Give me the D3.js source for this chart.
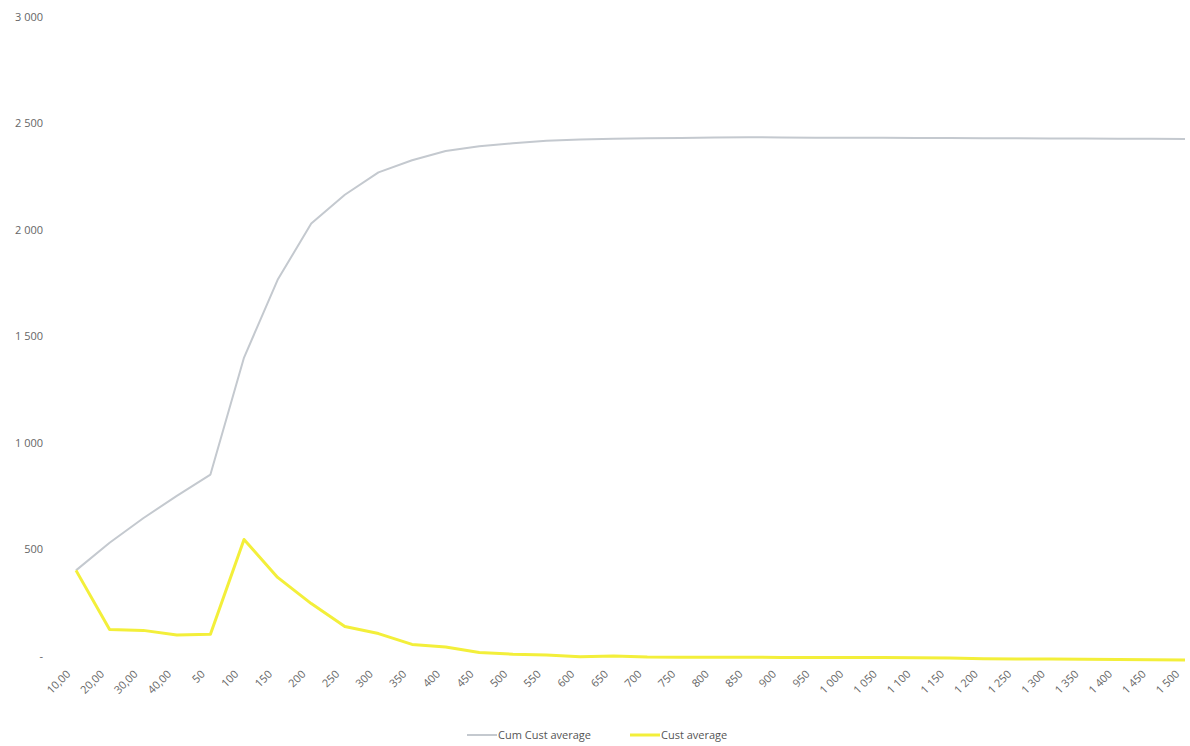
<!DOCTYPE html>
<html><head><meta charset="utf-8">
<script src="https://cdn.jsdelivr.net/npm/d3@7"></script>
<style>
body{margin:0;background:#fff;}
svg{display:block;font-family:"Open Sans","Noto Sans",sans-serif;}
</style></head>
<body><svg id="chart" width="1190" height="746"></svg>
<script>
const categories = ["10,00","20,00","30,00","40,00","50","100","150","200","250","300","350","400","450","500","550","600","650","700","750","800","850","900","950","1 000","1 050","1 100","1 150","1 200","1 250","1 300","1 350","1 400","1 450","1 500"];
const cumCustAverage = [400,530,645,750,850,1400,1765,2030,2165,2270,2327,2370,2393,2407,2418,2424,2428,2430,2432,2434,2435,2434,2433,2433,2433,2432,2431,2430,2430,2429,2429,2428,2428,2427];
const custAverage = [400,122,118,96,100,545,367,244,136,103,52,40,14,6,2,-6,-2,-7,-8,-8,-8,-9,-9,-9,-9,-10,-12,-15,-16,-17,-18,-19,-20,-21];
const yTicks = [0,500,1000,1500,2000,2500,3000];
const seriesNames = ["Cum Cust average","Cust average"];

const svg = d3.select("#chart");
const x = d3.scalePoint().domain(categories).range([76,1185]);
const y = d3.scaleLinear().domain([0,3000]).range([655.5,17]);
const loc = d3.formatLocale({decimal:",",thousands:" ",grouping:[3],currency:["",""]});
const fmt = loc.format(",d");

// y axis
const yAxis = d3.axisLeft(y).tickValues(yTicks).tickSize(0).tickPadding(0)
  .tickFormat(d => d === 0 ? "-" : fmt(d));
const gy = svg.append("g").attr("transform","translate(43,0)").call(yAxis);
gy.select(".domain").remove();
gy.selectAll("text").attr("fill","#666").style("font-size","11px").attr("font-family","'Open Sans',sans-serif");

// x axis labels
const xAxis = d3.axisBottom(x).tickSize(0).tickPadding(0);
const gx = svg.append("g").attr("transform","translate(0,668)").call(xAxis);
gx.select(".domain").remove();
gx.selectAll("text")
  .attr("fill","#666").style("font-size","11px").attr("font-family","'Open Sans',sans-serif")
  .attr("text-anchor","end").attr("dy","0.35em")
  .attr("transform","translate(-8,4) rotate(-45)");

const line = d3.line().x((d,i)=>x(categories[i])).y(d=>y(d));
svg.append("path").datum(cumCustAverage).attr("d",line)
  .attr("fill","none").attr("stroke","#c4c9cf").attr("stroke-width",2).attr("stroke-linejoin","round");
svg.append("path").datum(custAverage).attr("d",line)
  .attr("fill","none").attr("stroke","#f3ef3a").attr("stroke-width",3).attr("stroke-linejoin","round");

// legend
const legend = svg.append("g").attr("transform","translate(0,735)");
const items = [{name:seriesNames[0],color:"#c4c9cf",w:2,x0:467},{name:seriesNames[1],color:"#f3ef3a",w:3,x0:630}];
items.forEach(it=>{
  legend.append("line").attr("x1",it.x0).attr("x2",it.x0+30).attr("y1",0).attr("y2",0)
    .attr("stroke",it.color).attr("stroke-width",it.w);
  legend.append("text").attr("x",it.x0+31).attr("y",0).attr("dy","0.35em")
    .attr("fill","#555").style("font-size","11px").text(it.name);
});
</script></body></html>
